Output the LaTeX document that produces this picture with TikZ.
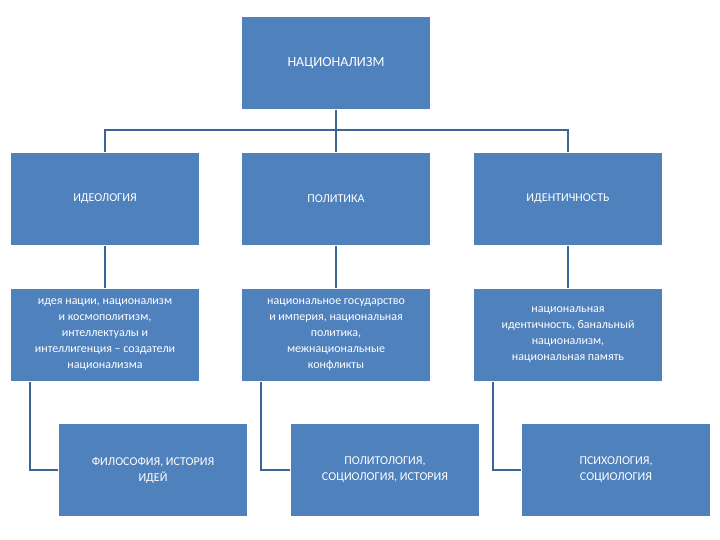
\documentclass[tikz,border=0pt]{standalone}
\usepackage{fontspec}
\setmainfont{Carlito}
\definecolor{boxc}{HTML}{4F81BD}
\definecolor{linec}{HTML}{3B6595}
\begin{document}
\begin{tikzpicture}[x=1pt,y=-1pt,
  bx/.style={draw=white,line width=1pt,fill=boxc,text=white,minimum width=189pt,minimum height=93pt,anchor=north west,align=center,font=\fontsize{12}{16}\selectfont,inner sep=0pt},
  ln/.style={draw=linec,line width=1.6pt}]
\useasboundingbox (0,0) rectangle (720,540);
\node[bx,font=\fontsize{14}{17}\selectfont] (top) at (241,16) {НАЦИОНАЛИЗМ};
\node[bx] (a1) at (10,152) {ИДЕОЛОГИЯ};
\node[bx] (b1) at (241,152) {ПОЛИТИКА};
\node[bx] (c1) at (473,152) {ИДЕНТИЧНОСТЬ};
\node[bx] (a2) at (10,288) {идея нации, национализм\\и космополитизм,\\интеллектуалы и\\интеллигенция – создатели\\национализма};
\node[bx] (b2) at (241,288) {национальное государство\\и империя, национальная\\политика,\\межнациональные\\конфликты};
\node[bx] (c2) at (473,288) {национальная\\идентичность, банальный\\национализм,\\национальная память};
\node[bx] (a3) at (58,423) {ФИЛОСОФИЯ, ИСТОРИЯ\\ИДЕЙ};
\node[bx] (b3) at (290,423) {ПОЛИТОЛОГИЯ,\\СОЦИОЛОГИЯ, ИСТОРИЯ};
\node[bx] (c3) at (521,423) {ПСИХОЛОГИЯ,\\СОЦИОЛОГИЯ};
\coordinate (j) at (336,130);
\draw[ln] (top.south) -- (j);
\draw[ln] (j) -| (a1.north);
\draw[ln] (j) -| (c1.north);
\draw[ln] (j) -- (b1.north);
\draw[ln] (a1.south) -- (a2.north);
\draw[ln] (b1.south) -- (b2.north);
\draw[ln] (c1.south) -- (c2.north);
\draw[ln] ([xshift=20pt]a2.south west) |- (a3.west);
\draw[ln] ([xshift=20pt]b2.south west) |- (b3.west);
\draw[ln] ([xshift=20pt]c2.south west) |- (c3.west);
\end{tikzpicture}
\end{document}
